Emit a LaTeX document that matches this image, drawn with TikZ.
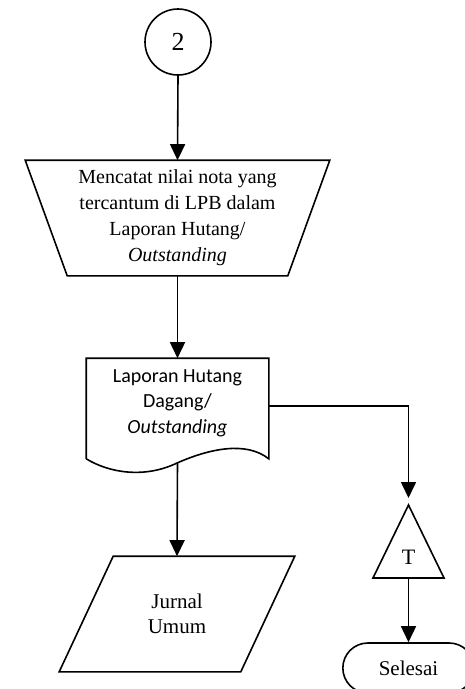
\documentclass[tikz,border=0pt]{standalone}
\usepackage{fontspec}
\setmainfont{Liberation Serif}[ItalicFont={Liberation Serif Italic}]
\newfontfamily\docfont{Carlito}[ItalicFont={Carlito Italic}]
\usetikzlibrary{arrows.meta,shapes.misc,calc}
\begin{document}
\begin{tikzpicture}[x=1pt,y=-1pt,line width=1.6pt,
  arr/.style={-{Triangle[length=16pt,width=15pt]}},
  conn/.style={circle,draw,minimum size=66pt,inner sep=0pt,font=\fontsize{26}{30}\selectfont},
  txt/.style={inner sep=0pt,align=center,font=\fontsize{20}{26}\selectfont},
  doctxt/.style={inner sep=0pt,align=center,font=\docfont\fontsize{20}{25.5}\selectfont},
  term/.style={rounded rectangle,draw,minimum width=138pt,minimum height=50pt,font=\fontsize{21}{25}\selectfont}]
\useasboundingbox (0,0) rectangle (464,689);

% connector
\node[conn] (c2) at (178,42) {2};

% manual operation (trapezium)
\node[txt,minimum width=303pt,minimum height=114pt] (p1) at (177.5,218)
  {Mencatat nilai nota yang\\tercantum di LPB dalam\\Laporan Hutang/\\\textit{Outstanding}};
\draw (p1.north west) -- (p1.north east) -- ($(p1.south east)+(-42,0)$)
  -- ($(p1.south west)+(42,0)$) -- cycle;

% document
\node[doctxt,minimum width=181pt,minimum height=88pt] (doc) at (177.5,403)
  {Laporan Hutang\\Dagang/\\\textit{Outstanding}};
\coordinate (dR) at ($(doc.south east)+(0,11)$);
\coordinate (dM) at ($(doc.south)+(0,15)$);
\coordinate (dL) at ($(doc.south west)+(0,11)$);
\coordinate (dE) at ($(doc.north east)+(0,48)$);
\draw (dL) -- (doc.north west) -- (doc.north east) -- (dR)
  .. controls ($(dR)+(-23,-18)$) and ($(dM)+(32,-14)$) .. (dM)
  .. controls ($(dM)+(-33,16)$) and ($(dL)+(23,14)$) .. (dL);

% journal (parallelogram)
\node[txt,font=\fontsize{21}{25}\selectfont,minimum width=180pt,minimum height=114pt] (jur) at (177,614)
  {Jurnal\\Umum};
\draw ($(jur.north west)+(27,0)$) -- ($(jur.north east)+(27,0)$)
  -- ($(jur.south east)+(-27,0)$) -- ($(jur.south west)+(-27,0)$) -- cycle;

% off-page triangle
\node[txt,font=\fontsize{22}{26}\selectfont] (tri) at (408.5,557) {T};
\coordinate (triTop) at ($(tri)+(0,-52)$);
\coordinate (triBot) at ($(tri)+(0,21)$);
\draw (triTop) -- ($(tri)+(35.5,21)$) -- ($(tri)+(-35.5,21)$) -- cycle;

% terminal
\node[term] (end) at (408.5,668) {Selesai};

% connectors
\draw[arr] (c2.south) -- (p1.north);
\draw[arr] (p1.south) -- (doc.north);
\draw[arr] (dM) -- (jur.north);
\draw[arr,shorten >=7pt] (dE) -| (triTop);
\draw[arr] (triBot) -- (end.north);
\end{tikzpicture}
\end{document}
